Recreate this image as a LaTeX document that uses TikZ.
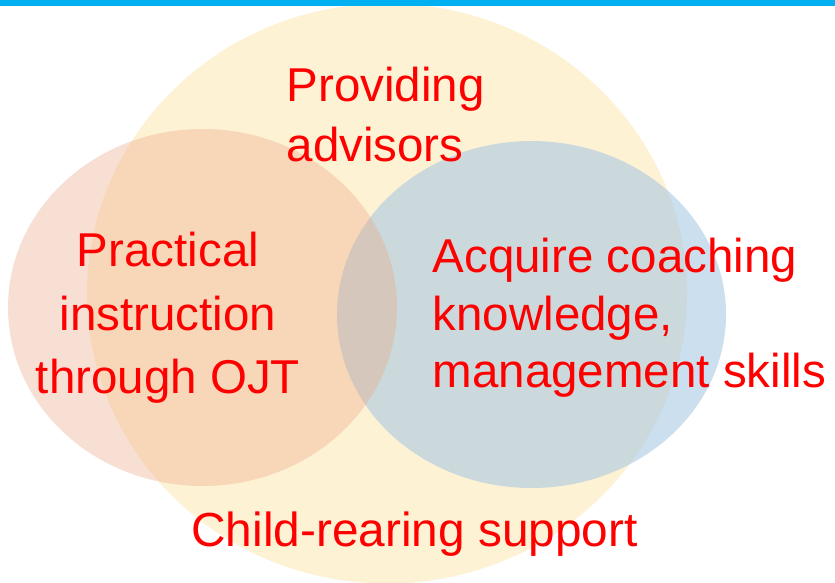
\documentclass[tikz,border=0pt]{standalone}
\usepackage{fontspec}
\setmainfont{Liberation Sans}
\definecolor{barblue}{HTML}{00B0F0}
\definecolor{bigyellow}{RGB}{254,242,213}
\definecolor{setblue}{RGB}{162,197,226}
\definecolor{setsalmon}{RGB}{235,166,132}
\definecolor{txtred}{RGB}{255,0,0}
\tikzset{
  lbl/.style={inner sep=0pt, text=txtred, font=\fontsize{47.5}{56}\selectfont},
  lblbig/.style={inner sep=0pt, text=txtred, font=\fontsize{47.8}{56}\selectfont},
}
\begin{document}
\begin{tikzpicture}[x=1pt,y=-1pt]
\useasboundingbox (0,0) rectangle (835,583);
\fill[white] (0,0) rectangle (835,583);
% big yellow set
\fill[bigyellow] (387,293.5) ellipse [x radius=300pt, y radius=290pt];
% blue set
\fill[setblue, fill opacity=0.55] (531.5,314.5) ellipse [x radius=194.5pt, y radius=173.5pt];
% salmon set
\fill[setsalmon, fill opacity=0.35] (202.5,307.5) ellipse [x radius=194.5pt, y radius=178.5pt];
% top bar
\fill[barblue] (0,0) rectangle (835,6);
% labels
\node[lbl, anchor=base west] (prov1) at (286.5,102) {Providing};
\node[lbl, anchor=base west] (prov2) at (286.5,161) {advisors};
\node[lbl, anchor=base] (ojt1) at (168,266) {Practical};
\node[lbl, anchor=base] (ojt2) at (168,330) {instruction};
\node[lbl, anchor=base] (ojt3) at (168,393.5) {through OJT};
\node[lbl, anchor=base west] (acq1) at (432.5,272) {Acquire coaching};
\node[lbl, anchor=base west] (acq2) at (432.5,330) {knowledge,};
\node[lbl, anchor=base west] (acq3) at (432.5,387) {management skills};
\node[lblbig, anchor=base] (child) at (414.5,546) {Child-rearing support};
\end{tikzpicture}
\end{document}
